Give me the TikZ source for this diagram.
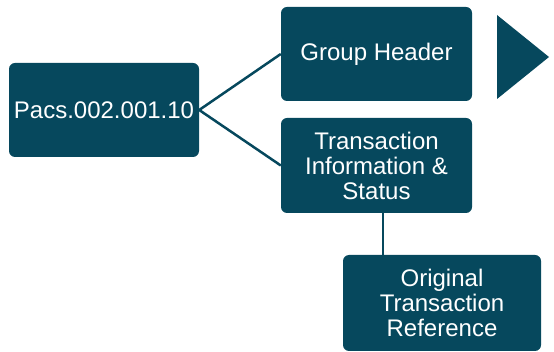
\documentclass[tikz,border=0pt]{standalone}
\usepackage{fontspec}
\setmainfont{Liberation Sans}
\definecolor{teal}{HTML}{06485D}
\begin{document}
\begin{tikzpicture}[x=1pt,y=-1pt,
  box/.style={fill=teal, rounded corners=6pt, text=white, align=center,
    inner sep=0pt, font=\fontsize{24}{25}\selectfont},
  link/.style={draw=teal, line width=2.5pt}]
\useasboundingbox (0,0) rectangle (554,352);
\node[box, minimum width=190pt, minimum height=94pt] (pacs) at (104,110) {Pacs.002.001.10};
\node[box, minimum width=191pt, minimum height=94pt] (gh) at (376.5,54) {Group Header};
\node[box, minimum width=191pt, minimum height=95pt] (tis) at (376.5,165.5) {Transaction\\Information \&\\Status};
\node[box, minimum width=198pt, minimum height=96pt] (otr) at (442,303) {Original\\Transaction\\Reference};
\fill[teal] (497,15) -- (549,57) -- (497,99) -- cycle;
\draw[link] (pacs.east) -- (gh.west);
\draw[link] (pacs.east) -- (tis.west);
\draw[link] ([xshift=6.5pt]tis.south) -- ([xshift=6.5pt]tis.south |- otr.north);
\end{tikzpicture}
\end{document}
